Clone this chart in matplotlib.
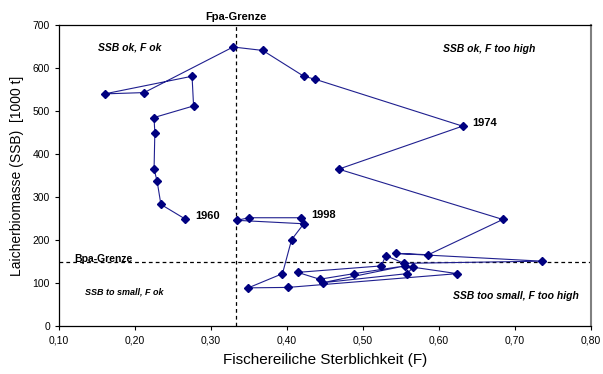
import numpy as np
import matplotlib
matplotlib.use('Agg')
import matplotlib.pyplot as plt
from matplotlib.ticker import FuncFormatter

plt.rcParams['font.family'] = ['Liberation Sans', 'DejaVu Sans']

# Fishing mortality F and spawning stock biomass SSB, 1960-1998
years = list(range(1960, 1999))
f_vals = [0.266, 0.234, 0.229, 0.225, 0.226, 0.225, 0.277, 0.275, 0.160, 0.212,
          0.329, 0.368, 0.422, 0.437, 0.631, 0.468, 0.684, 0.586, 0.544, 0.736,
          0.554, 0.530, 0.524, 0.414, 0.443, 0.488, 0.555, 0.447, 0.558, 0.566,
          0.624, 0.401, 0.349, 0.394, 0.406, 0.422, 0.334, 0.350, 0.419]
ssb_vals = [249, 283, 337, 365, 449, 485, 512, 581, 540, 543,
            649, 641, 581, 574, 465, 365, 248, 166, 169, 151,
            146, 164, 140, 125, 109, 122, 140, 101, 122, 137,
            122, 90, 89, 122, 201, 238, 246, 252, 252]

f_pa = 0.333
b_pa = 150
labelled_years = [1960, 1974, 1998]

fig = plt.figure(figsize=(6.03, 3.74), dpi=100)
ax = fig.add_axes([0.098, 0.128, 0.882, 0.805])

ax.plot(f_vals, ssb_vals, color='#1f1f8f', lw=0.8, marker='D', ms=4,
        mfc='#000080', mec='#000080', zorder=3)

ax.axvline(f_pa, color='black', ls=(0, (3, 2.5)), lw=0.9, zorder=2)
ax.axhline(b_pa, color='black', ls=(0, (3, 2.5)), lw=0.9, zorder=2)

ax.set_xlim(0.10, 0.80)
ax.set_ylim(0, 700)
ax.set_xticks(np.arange(0.10, 0.801, 0.10))
ax.set_yticks(np.arange(0, 701, 100))
ax.xaxis.set_major_formatter(FuncFormatter(lambda v, p: f'{v:.2f}'.replace('.', ',')))
ax.tick_params(labelsize=7.5, length=3, width=0.8, direction='out')

ax.set_xlabel('Fischereiliche Sterblichkeit (F)', fontsize=11, labelpad=6)
ax.set_ylabel('Laicherbiomasse (SSB)  [1000 t]', fontsize=10, labelpad=6)

for side in ['left', 'bottom', 'top']:
    ax.spines[side].set_linewidth(0.9)
ax.spines['right'].set_color('#808080')
ax.spines['right'].set_linewidth(1.5)

# year labels
for yr in labelled_years:
    i = years.index(yr)
    ax.annotate(str(yr), (f_vals[i], ssb_vals[i]), xytext=(7, 2),
                textcoords='offset points', fontsize=8, fontweight='bold',
                va='center', ha='left')

ax.text(f_pa, 708, 'Fpa-Grenze', fontsize=8, fontweight='bold',
        ha='center', va='bottom')
ax.text(0.158, 156, 'Bpa-Grenze', fontsize=7.5, fontweight='bold',
        ha='center', va='center')

ax.text(0.193, 647, 'SSB ok, F ok', fontsize=7.5, fontweight='bold',
        style='italic', ha='center', va='center')
ax.text(0.666, 644, 'SSB ok, F too high', fontsize=7.5, fontweight='bold',
        style='italic', ha='center', va='center')
ax.text(0.186, 79, 'SSB to small, F ok', fontsize=6.5, fontweight='bold',
        style='italic', ha='center', va='center')
ax.text(0.701, 70, 'SSB too small, F too high', fontsize=7.5, fontweight='bold',
        style='italic', ha='center', va='center')

fig.savefig('out.png', dpi=100)
